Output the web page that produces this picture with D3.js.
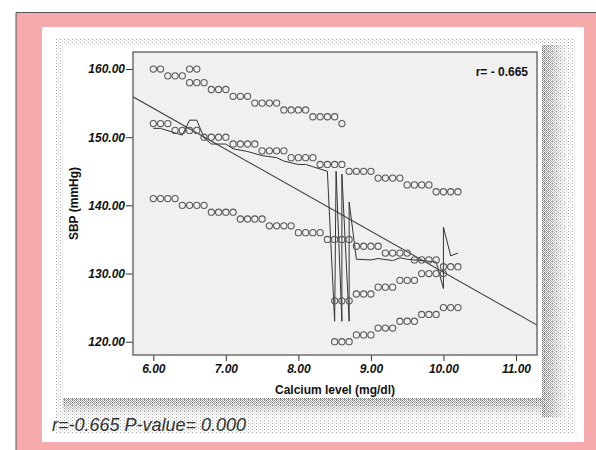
<!DOCTYPE html>
<html>
<head>
<meta charset="utf-8">
<script src="https://cdn.jsdelivr.net/npm/d3@7"></script>
<style>
  body { margin: 0; background: #fff; }
  svg { display: block; font-family: "Liberation Sans", Arial, sans-serif; }
  .axis text { font-size: 12px; font-weight: bold; font-style: italic; fill: #111; }
  .axis line { stroke: #333; }
  .axis path { display: none; }
</style>
</head>
<body>
<svg id="chart"></svg>
<script>
// SBP level -> calcium values of the points on that level
const sbpLevels = [160, 159, 158, 157, 156, 155, 154, 153, 152, 151, 150, 149, 148, 147, 146, 145, 144, 143, 142,
  141, 140, 139, 138, 137, 136, 135, 134, 133, 132, 131, 130, 129, 128, 127, 126, 125, 124, 123, 122, 121, 120];
const calciumAtLevel = [
  [6.0, 6.1, 6.5, 6.6], [6.2, 6.3, 6.4], [6.5, 6.6, 6.7], [6.8, 6.9, 7.0], [7.1, 7.2, 7.3],
  [7.4, 7.5, 7.6, 7.7], [7.8, 7.9, 8.0, 8.1], [8.2, 8.3, 8.4, 8.5], [6.0, 6.1, 6.2, 8.6], [6.3, 6.4, 6.5, 6.6],
  [6.7, 6.8, 6.9, 7.0], [7.1, 7.2, 7.3, 7.4], [7.5, 7.6, 7.7, 7.8], [7.9, 8.0, 8.1, 8.2], [8.3, 8.4, 8.5, 8.6],
  [8.7, 8.8, 8.9, 9.0], [9.1, 9.2, 9.3, 9.4], [9.5, 9.6, 9.7, 9.8], [9.9, 10.0, 10.1, 10.2],
  [6.0, 6.1, 6.2, 6.3], [6.4, 6.5, 6.6, 6.7], [6.8, 6.9, 7.0, 7.1], [7.2, 7.3, 7.4, 7.5], [7.6, 7.7, 7.8, 7.9],
  [8.0, 8.1, 8.2, 8.3], [8.4, 8.5, 8.6, 8.7], [8.8, 8.9, 9.0, 9.1], [9.2, 9.3, 9.4, 9.5], [9.6, 9.7, 9.8, 9.9],
  [10.0, 10.1, 10.2], [9.7, 9.8, 9.9, 10.0], [9.4, 9.5, 9.6], [9.1, 9.2, 9.3], [8.8, 8.9, 9.0], [8.5, 8.6, 8.7],
  [10.0, 10.1, 10.2], [9.7, 9.8, 9.9], [9.4, 9.5, 9.6], [9.1, 9.2, 9.3], [8.8, 8.9, 9.0], [8.5, 8.6, 8.7]
];

// jagged fit line [calcium, sbp]
const fitLine = [
  [6.0, 151.3], [6.1, 151.3], [6.4, 150.3], [6.5, 152.5], [6.6, 152.5], [6.7, 149.9], [6.8, 149.0], [7.0, 149.0],
  [7.1, 148.3], [7.3, 147.9], [7.5, 147.3], [7.7, 147.0], [7.8, 146.5], [8.0, 146.0], [8.1, 146.0], [8.4, 145.0],
  [8.5, 123.0], [8.52, 145.0], [8.6, 123.0], [8.6, 144.6], [8.7, 123.0], [8.7, 140.5], [8.8, 132.1],
  [9.0, 132.0], [9.1, 132.2], [9.3, 131.9], [9.4, 132.3], [9.5, 132.1], [9.7, 131.9], [9.9, 131.7],
  [10.0, 127.8], [10.0, 136.8], [10.1, 132.6], [10.2, 133.0]
];

// linear regression SBP = a + b * calcium
const regIntercept = 190.3;
const regSlope = -6.01;

const xTicks = [6, 7, 8, 9, 10, 11];
const yTicks = [120, 130, 140, 150, 160];
const xDomain = [5.72, 11.29];
const yDomain = [118.05, 162.5];

const W = 596, H = 450;
const plot = { left: 133, top: 52, right: 537, bottom: 355 };

const svg = d3.select('#chart').attr('width', W).attr('height', H);
const defs = svg.append('defs');

// sparse dot pattern
const dots = defs.append('pattern').attr('id', 'dots').attr('patternUnits', 'userSpaceOnUse')
  .attr('width', 4).attr('height', 3);
dots.append('rect').attr('width', 1).attr('height', 1).attr('fill', '#a8a8a8');
dots.append('rect').attr('x', 2).attr('y', 1.5).attr('width', 1).attr('height', 1).attr('fill', '#c4c4c4');
// dense dither pattern for the shadow
const dither = defs.append('pattern').attr('id', 'dither').attr('patternUnits', 'userSpaceOnUse')
  .attr('width', 2).attr('height', 2);
dither.append('rect').attr('width', 1).attr('height', 1).attr('fill', '#707070');
dither.append('rect').attr('x', 1).attr('y', 1).attr('width', 1).attr('height', 1).attr('fill', '#909090');

const gradR = defs.append('linearGradient').attr('id', 'fadeR').attr('x1', 0).attr('x2', 1).attr('y1', 0).attr('y2', 0);
gradR.append('stop').attr('offset', '0%').attr('stop-color', '#fff');
gradR.append('stop').attr('offset', '100%').attr('stop-color', '#000');
const gradB = defs.append('linearGradient').attr('id', 'fadeB').attr('x1', 0).attr('x2', 0).attr('y1', 0).attr('y2', 1);
gradB.append('stop').attr('offset', '0%').attr('stop-color', '#fff');
gradB.append('stop').attr('offset', '100%').attr('stop-color', '#000');
defs.append('mask').attr('id', 'maskR').append('rect')
  .attr('x', 542).attr('y', 45).attr('width', 25).attr('height', 372).attr('fill', 'url(#fadeR)');
defs.append('mask').attr('id', 'maskB').append('rect')
  .attr('x', 63).attr('y', 398).attr('width', 480).attr('height', 18).attr('fill', 'url(#fadeB)');

// page frame
svg.append('rect').attr('x', 16).attr('y', 12).attr('width', W - 16).attr('height', H - 12).attr('fill', '#f6aaab');
svg.append('path').attr('d', `M16,${H}V12.5H${W}`).attr('fill', 'none').attr('stroke', '#555').attr('stroke-width', 1);
svg.append('rect').attr('x', 42).attr('y', 27).attr('width', 542).attr('height', 415).attr('fill', '#fff');

// dotted frame + shadow
svg.append('rect').attr('x', 55).attr('y', 38).attr('width', 521).attr('height', 396).attr('fill', 'url(#dots)');
svg.append('rect').attr('x', 542).attr('y', 45).attr('width', 25).attr('height', 372)
  .attr('fill', 'url(#dither)').attr('mask', 'url(#maskR)');
svg.append('rect').attr('x', 63).attr('y', 398).attr('width', 480).attr('height', 18)
  .attr('fill', 'url(#dither)').attr('mask', 'url(#maskB)');
svg.append('rect').attr('x', 63).attr('y', 45).attr('width', 479).attr('height', 353).attr('fill', '#fff');

const x = d3.scaleLinear().domain(xDomain).range([plot.left, plot.right]);
const y = d3.scaleLinear().domain(yDomain).range([plot.bottom, plot.top]);

svg.append('rect').attr('x', plot.left).attr('y', plot.top)
  .attr('width', plot.right - plot.left).attr('height', plot.bottom - plot.top)
  .attr('fill', '#f0f0f0');

const fmt = d3.format('.2f');
svg.append('g').attr('class', 'axis').attr('transform', `translate(${plot.left},0)`)
  .call(d3.axisLeft(y).tickValues(yTicks).tickFormat(fmt).tickSize(7).tickSizeOuter(0).tickPadding(1));
svg.append('g').attr('class', 'axis').attr('transform', `translate(0,${plot.bottom})`)
  .call(d3.axisBottom(x).tickValues(xTicks).tickFormat(fmt).tickSize(6).tickSizeOuter(0).tickPadding(3));

const points = [];
sbpLevels.forEach((s, i) => calciumAtLevel[i].forEach(c => points.push({ ca: c, sbp: s })));

defs.append('clipPath').attr('id', 'plotClip').append('rect')
  .attr('x', plot.left).attr('y', plot.top).attr('width', plot.right - plot.left).attr('height', plot.bottom - plot.top);

const marks = svg.append('g').attr('clip-path', 'url(#plotClip)');
marks.append('line')
  .attr('x1', x(xDomain[0])).attr('y1', y(regIntercept + regSlope * xDomain[0]))
  .attr('x2', x(xDomain[1])).attr('y2', y(regIntercept + regSlope * xDomain[1]))
  .attr('stroke', '#444').attr('stroke-width', 1.1);
marks.append('path').datum(fitLine)
  .attr('d', d3.line().x(d => x(d[0])).y(d => y(d[1])))
  .attr('fill', 'none').attr('stroke', '#333').attr('stroke-width', 1);
marks.selectAll('circle').data(points).join('circle')
  .attr('cx', d => x(d.ca)).attr('cy', d => y(d.sbp)).attr('r', 3.1)
  .attr('fill', 'none').attr('stroke', '#5a5a5a').attr('stroke-width', 1.1);

svg.append('rect').attr('x', plot.left).attr('y', plot.top)
  .attr('width', plot.right - plot.left).attr('height', plot.bottom - plot.top)
  .attr('fill', 'none').attr('stroke', '#666').attr('stroke-width', 1.4);

svg.append('text').attr('x', 528).attr('y', 76).attr('text-anchor', 'end')
  .style('font-size', '12px').style('font-weight', 'bold').attr('fill', '#111').text('r= - 0.665');

svg.append('text').attr('x', (plot.left + plot.right) / 2).attr('y', 394).attr('text-anchor', 'middle')
  .style('font-size', '12px').style('font-weight', 'bold').attr('fill', '#111').text('Calcium level (mg/dl)');
svg.append('text').attr('transform', `translate(78,${(plot.top + plot.bottom) / 2}) rotate(-90)`)
  .attr('text-anchor', 'middle')
  .style('font-size', '12px').style('font-weight', 'bold').attr('fill', '#111').text('SBP (mmHg)');

svg.append('text').attr('x', 52).attr('y', 431)
  .style('font-size', '18px').style('font-style', 'italic').attr('fill', '#333').text('r=-0.665 P-value= 0.000');
</script>
</body>
</html>
